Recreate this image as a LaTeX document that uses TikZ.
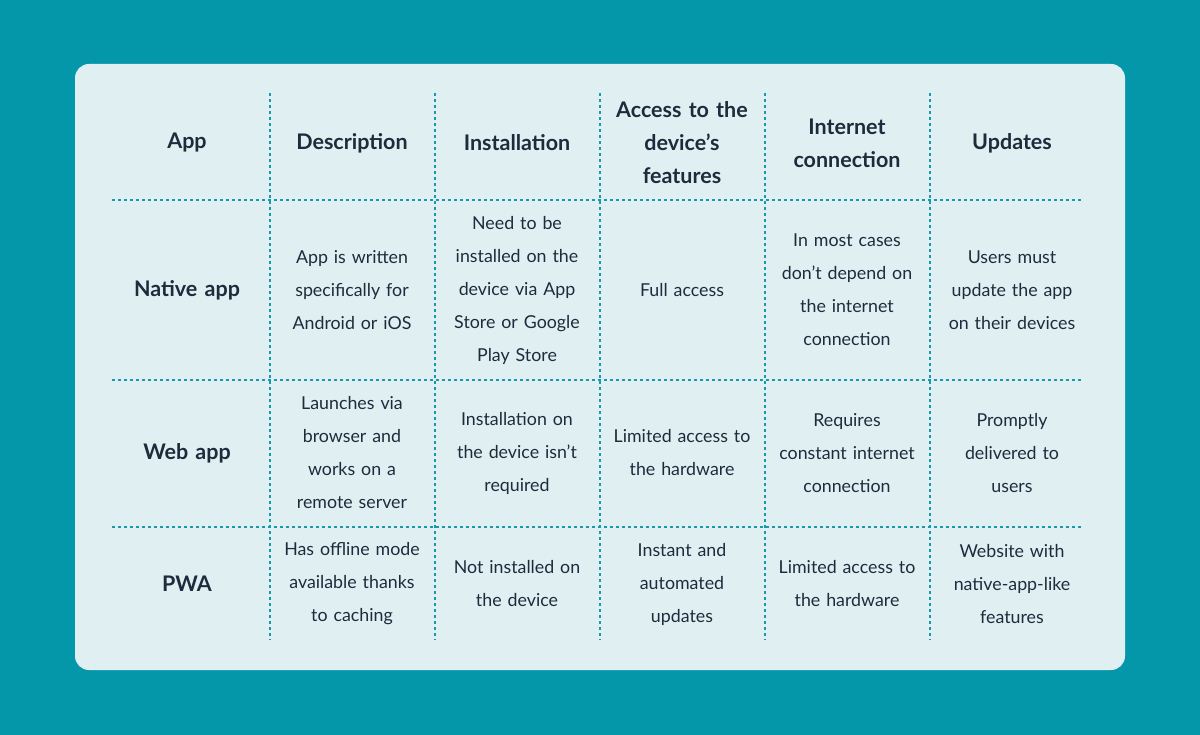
\documentclass[tikz,border=0pt]{standalone}
\usepackage{fontspec}
\setmainfont{Lato}
\definecolor{bg}{HTML}{0497A9}
\definecolor{card}{HTML}{E0F0F2}
\definecolor{ink}{HTML}{1F2B3C}
\definecolor{dl}{HTML}{1A9AA8}
\newcommand{\ap}{\char"27\relax}
\tikzset{
 cell/.style={align=center,text=ink,font=\fontsize{17.8}{33}\selectfont,text width=160pt},
 head/.style={align=center,text=ink,font=\fontsize{21.5}{33}\selectfont\bfseries,text width=160pt},
 grid/.style={dl,dash pattern=on 3pt off 3pt,line width=1.2pt}
}
\begin{document}
\begin{tikzpicture}[x=1pt,y=-1pt]
\fill[bg] (0,0) rectangle (1200,735);
\useasboundingbox (0,0) rectangle (1200,735);
\fill[card,rounded corners=14pt] (75,64) rectangle (1125,670);
\foreach \x in {270,435,600,765,930} \draw[grid] (\x,93) -- (\x,640);
\foreach \y in {200,380,527} \draw[grid] (112,\y) -- (1082,\y);
% headers
\node[head] (h1) at (187,143) {App};
\node[head] (h2) at (352,143) {Description};
\node[head] (h3) at (517,143) {Installation};
\node[head] (h4) at (682,143) {Access to the\\device\ap s\\features};
\node[head] (h5) at (847,143) {Internet\\connection};
\node[head] (h6) at (1012,143) {Updates};
% row 1
\node[head] (r1) at (187,290) {Native app};
\node[cell] (a2) at (352,290) {App is written\\specifically for\\Android or iOS};
\node[cell] (a3) at (517,290) {Need to be\\installed on the\\device via App\\Store or Google\\Play Store};
\node[cell] (a4) at (682,290) {Full access};
\node[cell] (a5) at (847,290) {In most cases\\don\ap t depend on\\the internet\\connection};
\node[cell] (a6) at (1012,290) {Users must\\update the app\\on their devices};
% row 2
\node[head] (r2) at (187,453) {Web app};
\node[cell] (b2) at (352,453) {Launches via\\browser and\\works on a\\remote server};
\node[cell] (b3) at (517,453) {Installation on\\the device isn\ap t\\required};
\node[cell] (b4) at (682,453) {Limited access to\\the hardware};
\node[cell] (b5) at (847,453) {Requires\\constant internet\\connection};
\node[cell] (b6) at (1012,453) {Promptly\\delivered to\\users};
% row 3
\node[head] (r3) at (187,584) {PWA};
\node[cell] (c2) at (352,584) {Has offline mode\\available thanks\\to caching};
\node[cell] (c3) at (517,584) {Not installed on\\the device};
\node[cell] (c4) at (682,584) {Instant and\\automated\\updates};
\node[cell] (c5) at (847,584) {Limited access to\\the hardware};
\node[cell] (c6) at (1012,584) {Website with\\native-app-like\\features};
\end{tikzpicture}
\end{document}
